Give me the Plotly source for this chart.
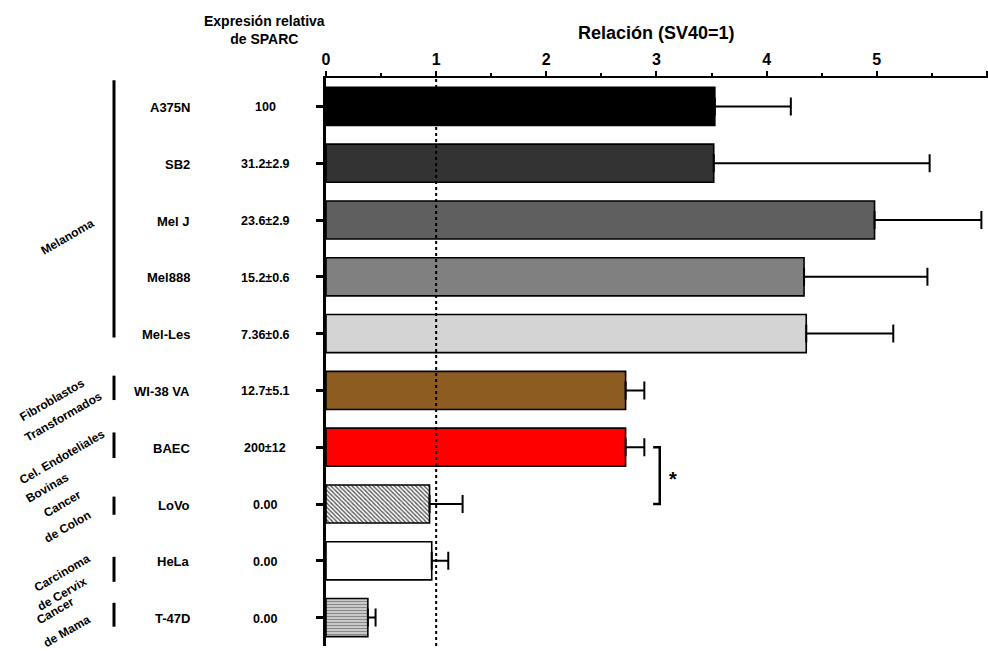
import plotly.graph_objects as go

# ---------------- data ----------------
cells = ["A375N", "SB2", "Mel J", "Mel888", "Mel-Les",
         "WI-38 VA", "BAEC", "LoVo", "HeLa", "T-47D"]
sparc = ["100", "31.2±2.9", "23.6±2.9", "15.2±0.6", "7.36±0.6",
         "12.7±5.1", "200±12", "0.00", "0.00", "0.00"]
ratio = [3.53, 3.52, 4.98, 4.34, 4.36, 2.72, 2.72, 0.94, 0.96, 0.38]
ratio_err = [0.69, 1.96, 0.97, 1.12, 0.79, 0.17, 0.17, 0.30, 0.15, 0.07]
bar_colors = ["#000000", "#333333", "#5f5f5f", "#808080", "#d4d4d4",
              "#8c5c20", "#ff0000", "#ffffff", "#ffffff", "#d6d6d6"]
pattern_shapes = ["", "", "", "", "", "", "", "\\", "", "-"]
pattern_fg = ["#000000", "#000000", "#000000", "#000000", "#000000",
              "#000000", "#000000", "#555555", "#000000", "#8a8a8a"]
pattern_size = [4, 4, 4, 4, 4, 4, 4, 3, 4, 3]
x_ticks = [0, 1, 2, 3, 4, 5, 6]

# group labels: (lines, start category, end category of vertical line)
groups = [
    (["Melanoma"], -0.46, 4.07),
    (["Fibroblastos", "Transformados"], 4.74, 5.17),
    (["Cel. Endoteliales", "Bovinas"], 5.74, 6.19),
    (["Cancer", "de Colon"], 6.87, 7.19),
    (["Carcinoma", "de Cervix"], 7.93, 8.37),
    (["Cancer", "de Mama"], 8.74, 9.16),
]
# label centre positions (pixel) for each text line
group_label_pos = [
    [(67, 237)],
    [(52, 400), (63, 417)],
    [(62, 457), (47, 488)],
    [(62, 504), (67, 527)],
    [(62, 573), (62, 594)],
    [(55, 611), (67, 631)],
]

# ---------------- geometry ----------------
W, H = 988, 651
L, T, R, B = 326, 78, 0, 5
PW, PH = W - L - R, H - T - B
YR = [9.5, -0.5]
FONT = "Liberation Sans, Arial, sans-serif"


def px2paper_x(px):
    return (px - L) / PW


def px2paper_y(py):
    return 1 - (py - T) / PH


def cat2paper_y(v):
    return 1 - (v - YR[1]) / (YR[0] - YR[1])


idx = list(range(len(cells)))

fig = go.Figure()
# one bar trace per cell line so each pattern gets its own definition
for i in idx:
    fig.add_trace(go.Bar(
        orientation="h",
        x=[ratio[i]], y=[i], width=0.67,
        marker=dict(
            color=bar_colors[i],
            line=dict(color="black", width=1.6),
            pattern=dict(shape=pattern_shapes[i], fgcolor=pattern_fg[i],
                         bgcolor=bar_colors[i], fgopacity=1,
                         size=pattern_size[i], solidity=0.45),
        ),
        error_x=dict(type="data", symmetric=False, array=[ratio_err[i]],
                     arrayminus=[0], color="black", thickness=2, width=9),
        showlegend=False,
        hoverinfo="skip",
    ))

annotations = []
# cell-line names and SPARC expression values
for i, (c, s) in enumerate(zip(cells, sparc)):
    annotations.append(dict(
        x=0, xref="paper", xshift=192 - L, xanchor="right",
        y=i, yref="y", yshift=-1, yanchor="middle",
        text=c, showarrow=False,
        font=dict(family=FONT, size=13, color="black", weight="bold")))
    annotations.append(dict(
        x=0, xref="paper", xshift=265 - L, xanchor="center",
        y=i, yref="y", yshift=-1, yanchor="middle",
        text=s, showarrow=False,
        font=dict(family=FONT, size=12.5, color="black", weight="bold")))

# group labels (rotated)
for (lines, _, _), poss in zip(groups, group_label_pos):
    for txt, (px, py) in zip(lines, poss):
        annotations.append(dict(
            x=px2paper_x(px), xref="paper", xanchor="center",
            y=px2paper_y(py), yref="paper", yanchor="middle",
            text=txt, textangle=-30, showarrow=False,
            font=dict(family=FONT, size=12, color="black", weight="bold")))

# headers
annotations.append(dict(
    x=px2paper_x(264), xref="paper", xanchor="center",
    y=px2paper_y(30), yref="paper", yanchor="middle",
    text="Expresión relativa<br>de SPARC", showarrow=False,
    font=dict(family=FONT, size=14, color="black", weight="bold")))
annotations.append(dict(
    x=3, xref="x", xanchor="center",
    y=px2paper_y(33), yref="paper", yanchor="middle",
    text="Relación (SV40=1)", showarrow=False,
    font=dict(family=FONT, size=18, color="black", weight="bold")))
# significance asterisk
annotations.append(dict(
    x=3.15, xref="x", xanchor="center",
    y=6.5, yref="y", yanchor="middle", yshift=-3,
    text="*", showarrow=False,
    font=dict(family=FONT, size=20, color="black", weight="bold")))

shapes = []
# group vertical lines
for _, y0, y1 in groups:
    shapes.append(dict(type="line", xref="paper", yref="paper",
                       x0=px2paper_x(114), x1=px2paper_x(114),
                       y0=cat2paper_y(y0), y1=cat2paper_y(y1),
                       line=dict(color="black", width=3)))
# reference dotted line at ratio 1
shapes.append(dict(type="line", xref="x", yref="paper", x0=1, x1=1,
                   y0=0, y1=1, layer="above",
                   line=dict(color="black", width=2, dash="dot")))
# significance bracket between BAEC and LoVo
shapes.append(dict(type="path", xref="x", yref="y",
                   path="M 2.97,6 L 3.03,6 L 3.03,7 L 2.97,7",
                   line=dict(color="black", width=2.5)))

fig.update_layout(
    template="none",
    width=W, height=H,
    margin=dict(l=L, r=R, t=T, b=B, pad=0, autoexpand=False),
    paper_bgcolor="white", plot_bgcolor="white",
    font=dict(family=FONT, color="black"),
    barmode="overlay",
    annotations=annotations,
    shapes=shapes,
    xaxis=dict(side="top", range=[0, 6.01], tickvals=x_ticks,
               automargin=False,
               ticks="outside", ticklen=5, tickwidth=2, tickcolor="black",
               minor=dict(dtick=0.5, ticks="outside", ticklen=3,
                          tickwidth=1.5, tickcolor="black"),
               showline=True, linewidth=2, linecolor="black",
               showgrid=False, zeroline=False,
               tickfont=dict(family=FONT, size=16, color="black",
                             weight="bold")),
    yaxis=dict(range=YR, tickvals=idx, showticklabels=False,
               automargin=False,
               ticks="outside", ticklen=7, tickwidth=2.5, tickcolor="black",
               showline=True, linewidth=2.5, linecolor="black",
               showgrid=False, zeroline=False),
)

fig.write_html(
    "out.html",
    config={"displayModeBar": False},
    post_script="document.body.style.margin='0px';"
                "document.body.style.overflow='hidden';",
)
